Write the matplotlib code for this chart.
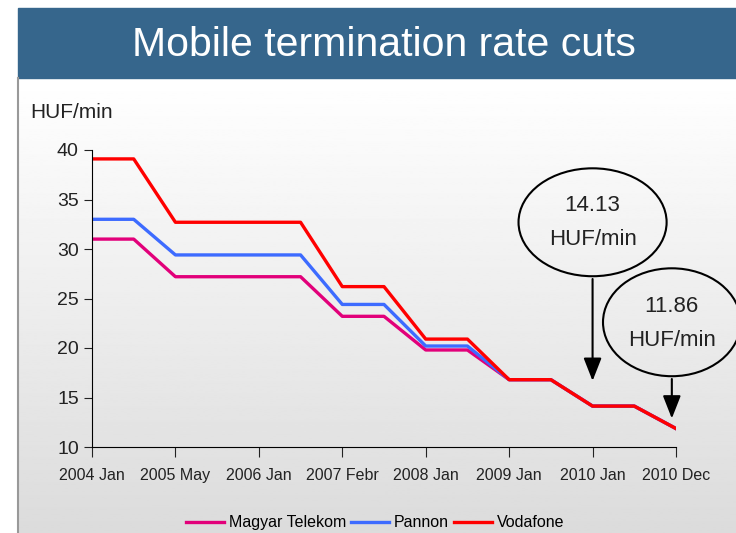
import numpy as np
import matplotlib.pyplot as plt
from matplotlib.patches import Ellipse, Rectangle

plt.rcParams['font.family'] = ['Liberation Sans', 'DejaVu Sans']

# steps on a category axis, labels every second step
steps = np.arange(15)
tick_labels = ['2004 Jan', '2005 May', '2006 Jan', '2007 Febr',
               '2008 Jan', '2009 Jan', '2010 Jan', '2010 Dec']

magyar_telekom = [31.0, 31.0, 27.2, 27.2, 27.2, 27.2, 23.2, 23.2, 19.8, 19.8, 16.8, 16.8, 14.13, 14.13, 11.86]
pannon = [33.0, 33.0, 29.4, 29.4, 29.4, 29.4, 24.4, 24.4, 20.2, 20.2, 16.8, 16.8, 14.13, 14.13, 11.86]
vodafone = [39.1, 39.1, 32.7, 32.7, 32.7, 32.7, 26.2, 26.2, 20.9, 20.9, 16.8, 16.8, 14.13, 14.13, 11.86]

fig = plt.figure(figsize=(7.36, 5.33), dpi=100)

# gradient background + title bar
bg = fig.add_axes([18/736, 0, 1 - 18/736, 1 - 78/533])
grad = np.linspace(1.0, 0.86, 256).reshape(-1, 1)
bg.imshow(grad, cmap='gray', vmin=0, vmax=1, aspect='auto', extent=[0, 1, 0, 1])
bg.axis('off')
fig.patches.append(Rectangle((18/736, 1 - 78/533), 1, 70/533, transform=fig.transFigure,
                             color='#36668c', zorder=0))
fig.lines.append(plt.Line2D([18/736, 18/736], [0, 1 - 78/533], transform=fig.transFigure,
                            color='#999999', lw=1.5))
fig.text(0.522, 1 - 45/533, 'Mobile termination rate cuts', color='white',
         fontsize=29.5, ha='center', va='center')
fig.text(30/736, 1 - 112/533, 'HUF/min', fontsize=15, va='center', color='#222222')

ax = fig.add_axes([92/736, 86/533, (676 - 92)/736, (447 - 150)/533])
ax.patch.set_alpha(0)
ax.plot(steps, magyar_telekom, color='#e2007a', lw=2.4, label='Magyar Telekom')
ax.plot(steps, pannon, color='#3d6bff', lw=2.4, label='Pannon')
ax.plot(steps, vodafone, color='#ff0000', lw=2.4, label='Vodafone')

ax.set_xlim(0, 14)
ax.set_ylim(10, 40)
ax.set_xticks(steps[::2])
ax.set_xticklabels(tick_labels)
ax.set_yticks(range(10, 41, 5))
ax.spines['top'].set_visible(False)
ax.spines['right'].set_visible(False)
ax.tick_params(axis='x', length=7, labelsize=11.5, pad=8, colors='#222222')
ax.tick_params(axis='y', length=6, labelsize=14, colors='#222222')

# callouts
e1 = Ellipse((12, 32.7), 3.55, 10.9, fill=False, ec='black', lw=1.5, clip_on=False)
e2 = Ellipse((13.9, 22.6), 3.3, 10.9, fill=False, ec='black', lw=1.5, clip_on=False)
ax.add_patch(e1)
ax.add_patch(e2)
ax.text(12, 34.4, '14.13', ha='center', va='center', fontsize=16, color='#222222')
ax.text(12, 31.0, 'HUF/min', ha='center', va='center', fontsize=16, color='#222222')
ax.text(13.9, 24.2, '11.86', ha='center', va='center', fontsize=16, color='#222222')
ax.text(13.9, 20.8, 'HUF/min', ha='center', va='center', fontsize=16, color='#222222')
ax.annotate('', xy=(12, 16.4), xytext=(12, 27.25),
            arrowprops=dict(arrowstyle='-|>,head_width=0.55,head_length=1.4', color='black', lw=1.5))
ax.annotate('', xy=(13.9, 12.6), xytext=(13.9, 17.15),
            arrowprops=dict(arrowstyle='-|>,head_width=0.55,head_length=1.4', color='black', lw=1.5),
            annotation_clip=False)

ax.legend(loc='center', bbox_to_anchor=(0.485, -0.255), ncol=3, frameon=False,
          fontsize=11.5, handlelength=2.4, columnspacing=0.3, handletextpad=0.3)

plt.savefig('out.png', dpi=100)
